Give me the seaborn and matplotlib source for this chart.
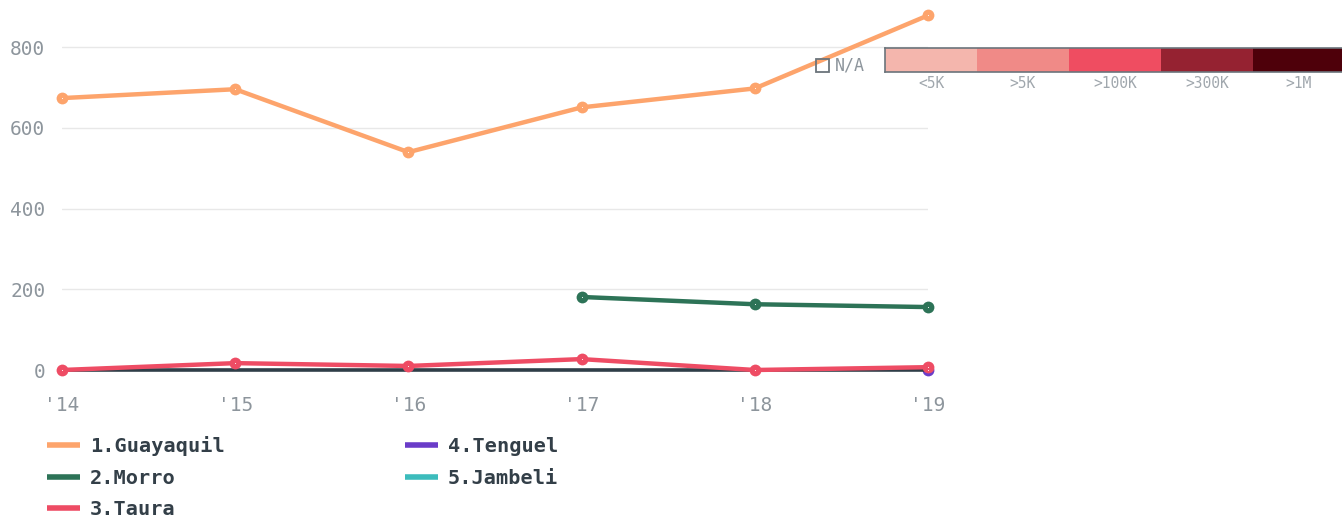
import numpy as np
import pandas as pd
import matplotlib.pyplot as plt
import seaborn as sns
from matplotlib.lines import Line2D
from matplotlib.patches import Rectangle

years = [2014, 2015, 2016, 2017, 2018, 2019]
year_labels = ["'14", "'15", "'16", "'17", "'18", "'19"]

guayaquil = [674, 696, 540, 651, 698, 879]
morro = [np.nan, np.nan, np.nan, 181, 163, 156]
taura = [0, 17, 10, 27, 0, 7]
tenguel = [np.nan, np.nan, np.nan, np.nan, np.nan, 0]
jambeli = [np.nan] * 6

series_names = ["1.Guayaquil", "2.Morro", "3.Taura", "4.Tenguel", "5.Jambeli"]
series_colors = ["#fda46c", "#2d7357", "#ee4c64", "#6a3cc8", "#3cbcbc"]

scale_labels = ["<5K", ">5K", ">100K", ">300K", ">1M"]
scale_colors = ["#f4b6ad", "#f08a87", "#ef4d61", "#952231", "#4e000a"]

y_ticks = [0, 200, 400, 600, 800]

rows = []
for name, vals in zip(series_names, [guayaquil, morro, taura, tenguel, jambeli]):
    for y, v in zip(years, vals):
        rows.append({"year": y, "value": v, "city": name})
df = pd.DataFrame(rows)

sns.set_style("white")
plt.rcParams['font.family'] = ['DejaVu Sans Mono', 'DejaVu Sans']

fig = plt.figure(figsize=(13.42, 5.28), dpi=100)
ax = fig.add_axes([62 / 1342, 158 / 528, 866 / 1342, 355 / 528])

draw_order = ["4.Tenguel", "5.Jambeli", "2.Morro", "1.Guayaquil"]
palette = dict(zip(series_names, series_colors))
sub = df[df["city"].isin(draw_order) & df["value"].notna()]
sns.lineplot(data=sub, x="year", y="value", hue="city", palette=palette,
             marker="o", markersize=8.5, markeredgewidth=0, linewidth=3.2,
             legend=False, ax=ax, clip_on=False, zorder=3)

# dark baseline at zero
ax.axhline(0, color="#2f3e48", linewidth=2.6, zorder=4, clip_on=False)

taura_df = df[(df["city"] == "3.Taura")]
sns.lineplot(data=taura_df, x="year", y="value", color=palette["3.Taura"],
             marker="o", markersize=8.5, markeredgewidth=0, linewidth=3.2,
             legend=False, ax=ax, clip_on=False, zorder=5)

# tiny white centre dots
for name, vals in zip(series_names, [guayaquil, morro, taura, tenguel, jambeli]):
    ax.scatter(years, vals, s=0.6, color="white", linewidths=0, zorder=6, clip_on=False)

ax.set_xlim(2014, 2019)
ax.set_ylim(0, 880)
ax.set_yticks(y_ticks)
ax.set_xticks(years)
ax.set_xticklabels(year_labels)
ax.yaxis.grid(True, color="#e8e8e8", linewidth=1)
ax.xaxis.grid(False)
for s in ax.spines.values():
    s.set_visible(False)
ax.tick_params(axis="both", length=0, colors="#8d959c", labelsize=14)
ax.tick_params(axis="y", pad=12)
ax.tick_params(axis="x", pad=19)
ax.set_xlabel("")
ax.set_ylabel("")

# legend
handles = [Line2D([0], [0], color=c, linewidth=4, solid_capstyle="butt")
           for c in series_colors]
fig.legend(handles, series_names, ncol=2, loc="upper left",
           bbox_to_anchor=(29 / 1342, 1 - 418 / 528), frameon=False,
           prop={"family": "DejaVu Sans Mono", "weight": "bold", "size": 14.6},
           labelcolor="#333f48", handlelength=1.6, handletextpad=0.5,
           columnspacing=8.9, labelspacing=0.62)

# colour scale legend
cax = fig.add_axes([885 / 1342, (528 - 72) / 528, 460 / 1342, 24 / 528])
for i, c in enumerate(scale_colors):
    cax.add_patch(Rectangle((i, 0), 1, 1, facecolor=c, edgecolor="none"))
cax.set_xlim(0, 5)
cax.set_ylim(0, 1)
cax.set_xticks([])
cax.set_yticks([])
for s in cax.spines.values():
    s.set_color("#6b747b")
    s.set_linewidth(1.2)
for i, lab in enumerate(scale_labels):
    fig.text((885 + 92 * i + 46) / 1342, 1 - 84 / 528, lab, ha="center", va="center",
             fontsize=10.5, color="#a0a7ad")

fig.patches.append(Rectangle((816 / 1342, 1 - 72 / 528), 13 / 1342, 13 / 528,
                             transform=fig.transFigure, fill=False,
                             edgecolor="#6b747b", linewidth=1.3))
fig.text(835 / 1342, 1 - 66 / 528, "N/A", ha="left", va="center",
         fontsize=12, color="#8d959c")

fig.savefig("out.png", dpi=100)
